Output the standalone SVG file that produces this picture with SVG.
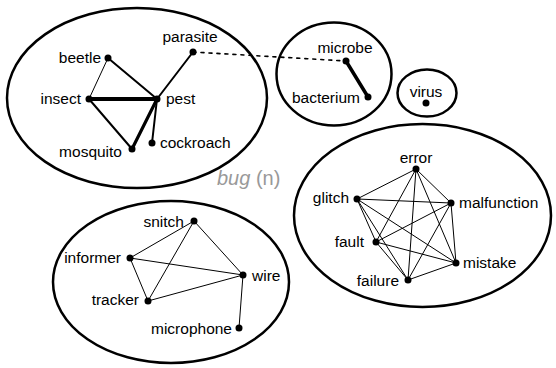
<svg xmlns="http://www.w3.org/2000/svg" width="556" height="368" viewBox="0 0 556 368">
<style>
.grp{fill:none;stroke:#000;stroke-width:2.5}
.e{stroke:#000;fill:none;stroke-linecap:round}
.t1{stroke-width:1}
.t2{stroke-width:2}
.t3{stroke-width:3.2}
.t4{stroke-width:4}
.dot{fill:#000}
text{font-family:"Liberation Sans",Arial,Helvetica,sans-serif;font-size:15.5px;fill:#000}
.end{text-anchor:end}
.mid{text-anchor:middle}
.title{font-size:20px;fill:#999}
</style>
<g id="groups">
<ellipse id="g-bug" class="grp" cx="137" cy="98" rx="130" ry="90"/>
<ellipse id="g-microbe" class="grp" cx="334" cy="74" rx="57.5" ry="51.5"/>
<ellipse id="g-virus" class="grp" cx="427" cy="93" rx="29.5" ry="23.5"/>
<ellipse id="g-error" class="grp" cx="422.5" cy="215.5" rx="128.5" ry="91.5"/>
<ellipse id="g-snitch" class="grp" cx="171" cy="282" rx="118" ry="81"/>
</g>
<g id="connectors">
<line class="e t1" x1="108" y1="58" x2="89" y2="99"/>
<line class="e t2" x1="108" y1="58" x2="157" y2="99"/>
<line class="e t4" x1="89" y1="99" x2="157" y2="99"/>
<line class="e t2" x1="89" y1="99" x2="132" y2="149"/>
<line class="e t3" x1="157" y1="99" x2="132" y2="149"/>
<line class="e t2" x1="157" y1="99" x2="152" y2="143"/>
<line class="e t2" x1="157" y1="99" x2="193" y2="52"/>
<line class="e" stroke-width="1.6" stroke-dasharray="3 5" stroke-linecap="butt" x1="193" y1="52" x2="346" y2="61"/>
<line class="e" stroke-width="3.5" x1="346" y1="61" x2="368" y2="97"/>
<g class="e t1">
<line x1="416" y1="169" x2="357" y2="199"/>
<line x1="416" y1="169" x2="451" y2="203"/>
<line x1="416" y1="169" x2="376" y2="242"/>
<line x1="416" y1="169" x2="408" y2="280"/>
<line x1="416" y1="169" x2="456" y2="263"/>
<line x1="357" y1="199" x2="451" y2="203"/>
<line x1="357" y1="199" x2="376" y2="242"/>
<line x1="357" y1="199" x2="408" y2="280"/>
<line x1="357" y1="199" x2="456" y2="263"/>
<line x1="451" y1="203" x2="376" y2="242"/>
<line x1="451" y1="203" x2="408" y2="280"/>
<line x1="451" y1="203" x2="456" y2="263"/>
<line x1="376" y1="242" x2="456" y2="263"/>
<line x1="376" y1="242" x2="408" y2="280"/>
<line x1="408" y1="280" x2="456" y2="263"/>
<line x1="194" y1="221" x2="130" y2="258"/>
<line x1="194" y1="221" x2="148" y2="301"/>
<line x1="194" y1="221" x2="243" y2="275"/>
<line x1="130" y1="258" x2="243" y2="275"/>
<line x1="130" y1="258" x2="148" y2="301"/>
<line x1="148" y1="301" x2="243" y2="275"/>
<line x1="243" y1="275" x2="239" y2="328"/>
</g>
</g>
<g id="n-beetle"><circle class="dot" cx="108" cy="58" r="3.5"/><text class="end" x="101" y="63">beetle</text></g>
<g id="n-parasite"><circle class="dot" cx="193" cy="52" r="3.5"/><text class="mid" x="190" y="42">parasite</text></g>
<g id="n-insect"><circle class="dot" cx="89" cy="99" r="3.5"/><text class="end" x="81" y="104">insect</text></g>
<g id="n-pest"><circle class="dot" cx="157" cy="99" r="3.5"/><text x="166" y="104">pest</text></g>
<g id="n-mosquito"><circle class="dot" cx="132" cy="149" r="3.5"/><text class="end" x="122" y="157">mosquito</text></g>
<g id="n-cockroach"><circle class="dot" cx="152" cy="143" r="3.5"/><text x="160" y="148">cockroach</text></g>
<g id="n-microbe"><circle class="dot" cx="346" cy="61" r="3.5"/><text class="mid" x="345" y="53">microbe</text></g>
<g id="n-bacterium"><circle class="dot" cx="368" cy="97" r="3.5"/><text class="end" x="360" y="103">bacterium</text></g>
<g id="n-virus"><circle class="dot" cx="426" cy="103" r="3.5"/><text class="mid" x="426" y="97">virus</text></g>
<g id="n-error"><circle class="dot" cx="416" cy="169" r="3.5"/><text class="mid" x="416" y="163">error</text></g>
<g id="n-glitch"><circle class="dot" cx="357" cy="199" r="3.5"/><text class="end" x="349" y="203">glitch</text></g>
<g id="n-malfunction"><circle class="dot" cx="451" cy="203" r="3.5"/><text x="459" y="208">malfunction</text></g>
<g id="n-fault"><circle class="dot" cx="376" cy="242" r="3.5"/><text class="end" x="364" y="247">fault</text></g>
<g id="n-mistake"><circle class="dot" cx="456" cy="263" r="3.5"/><text x="463" y="268">mistake</text></g>
<g id="n-failure"><circle class="dot" cx="408" cy="280" r="3.5"/><text class="end" x="399" y="286">failure</text></g>
<g id="n-snitch"><circle class="dot" cx="194" cy="221" r="3.5"/><text class="end" x="184" y="227">snitch</text></g>
<g id="n-informer"><circle class="dot" cx="130" cy="258" r="3.5"/><text class="end" x="121" y="263">informer</text></g>
<g id="n-wire"><circle class="dot" cx="243" cy="275" r="3.5"/><text x="252" y="281">wire</text></g>
<g id="n-tracker"><circle class="dot" cx="148" cy="301" r="3.5"/><text class="end" x="139" y="305">tracker</text></g>
<g id="n-microphone"><circle class="dot" cx="239" cy="328" r="3.5"/><text class="end" x="232" y="334">microphone</text></g>
<text class="title" x="217" y="185"><tspan font-style="italic">bug</tspan> (n)</text>
</svg>
